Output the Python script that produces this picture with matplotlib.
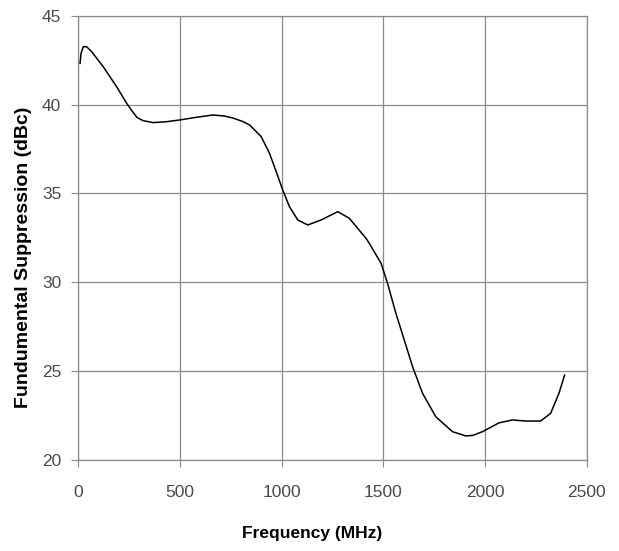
import matplotlib
matplotlib.use('Agg')
import matplotlib.pyplot as plt

# Frequency (MHz) / suppression (dBc)
freq = [10, 15, 26, 42, 67, 124, 190, 239, 262, 290, 320, 369, 435, 500,
        582, 663, 720, 761, 810, 843, 900, 941, 974, 1006, 1039, 1080,
        1129, 1194, 1276, 1333, 1415, 1431, 1489, 1521, 1562, 1603, 1644,
        1693, 1758, 1840, 1905, 1940, 1987, 2069, 2134, 2199, 2273, 2322,
        2363, 2391]
supp = [42.33, 42.9, 43.27, 43.27, 42.99, 42.14, 41.01, 40.08, 39.7, 39.28,
        39.1, 38.99, 39.04, 39.14, 39.29, 39.42, 39.36, 39.25, 39.05, 38.86,
        38.2, 37.26, 36.22, 35.19, 34.25, 33.5, 33.22, 33.5, 33.97, 33.6,
        32.47, 32.19, 31.06, 29.93, 28.24, 26.74, 25.23, 23.73, 22.41, 21.57,
        21.33, 21.36, 21.57, 22.07, 22.23, 22.17, 22.17, 22.6, 23.73, 24.76]

xticks = [0, 500, 1000, 1500, 2000, 2500]
yticks = [20, 25, 30, 35, 40, 45]

plt.rcParams['font.family'] = ['Liberation Sans', 'DejaVu Sans']

fig = plt.figure(figsize=(6.19, 5.51), dpi=100)
ax = fig.add_axes([0.126, 0.166, 0.822, 0.805])

ax.plot(freq, supp, color='black', linewidth=1.1)

ax.set_xlim(0, 2500)
ax.set_ylim(20, 45)
ax.set_xticks(xticks)
ax.set_yticks(yticks)
ax.grid(True, color='#8a8a8a', linewidth=0.9)
for s in ax.spines.values():
    s.set_color('#8a8a8a')
    s.set_linewidth(0.9)
ax.tick_params(direction='out', length=5, color='#8a8a8a',
               labelcolor='#4a4a4a', labelsize=12.5)
ax.tick_params(axis='x', pad=13)
ax.tick_params(axis='y', pad=7)

ax.set_xlabel('Frequency (MHz)', fontsize=12.5, fontweight='bold')
ax.set_ylabel('Fundumental Suppression (dBc)', fontsize=14, fontweight='bold')
ax.xaxis.set_label_coords(0.46, -0.15)
ax.yaxis.set_label_coords(-0.09, 0.456)

fig.savefig('out.png', dpi=100)
